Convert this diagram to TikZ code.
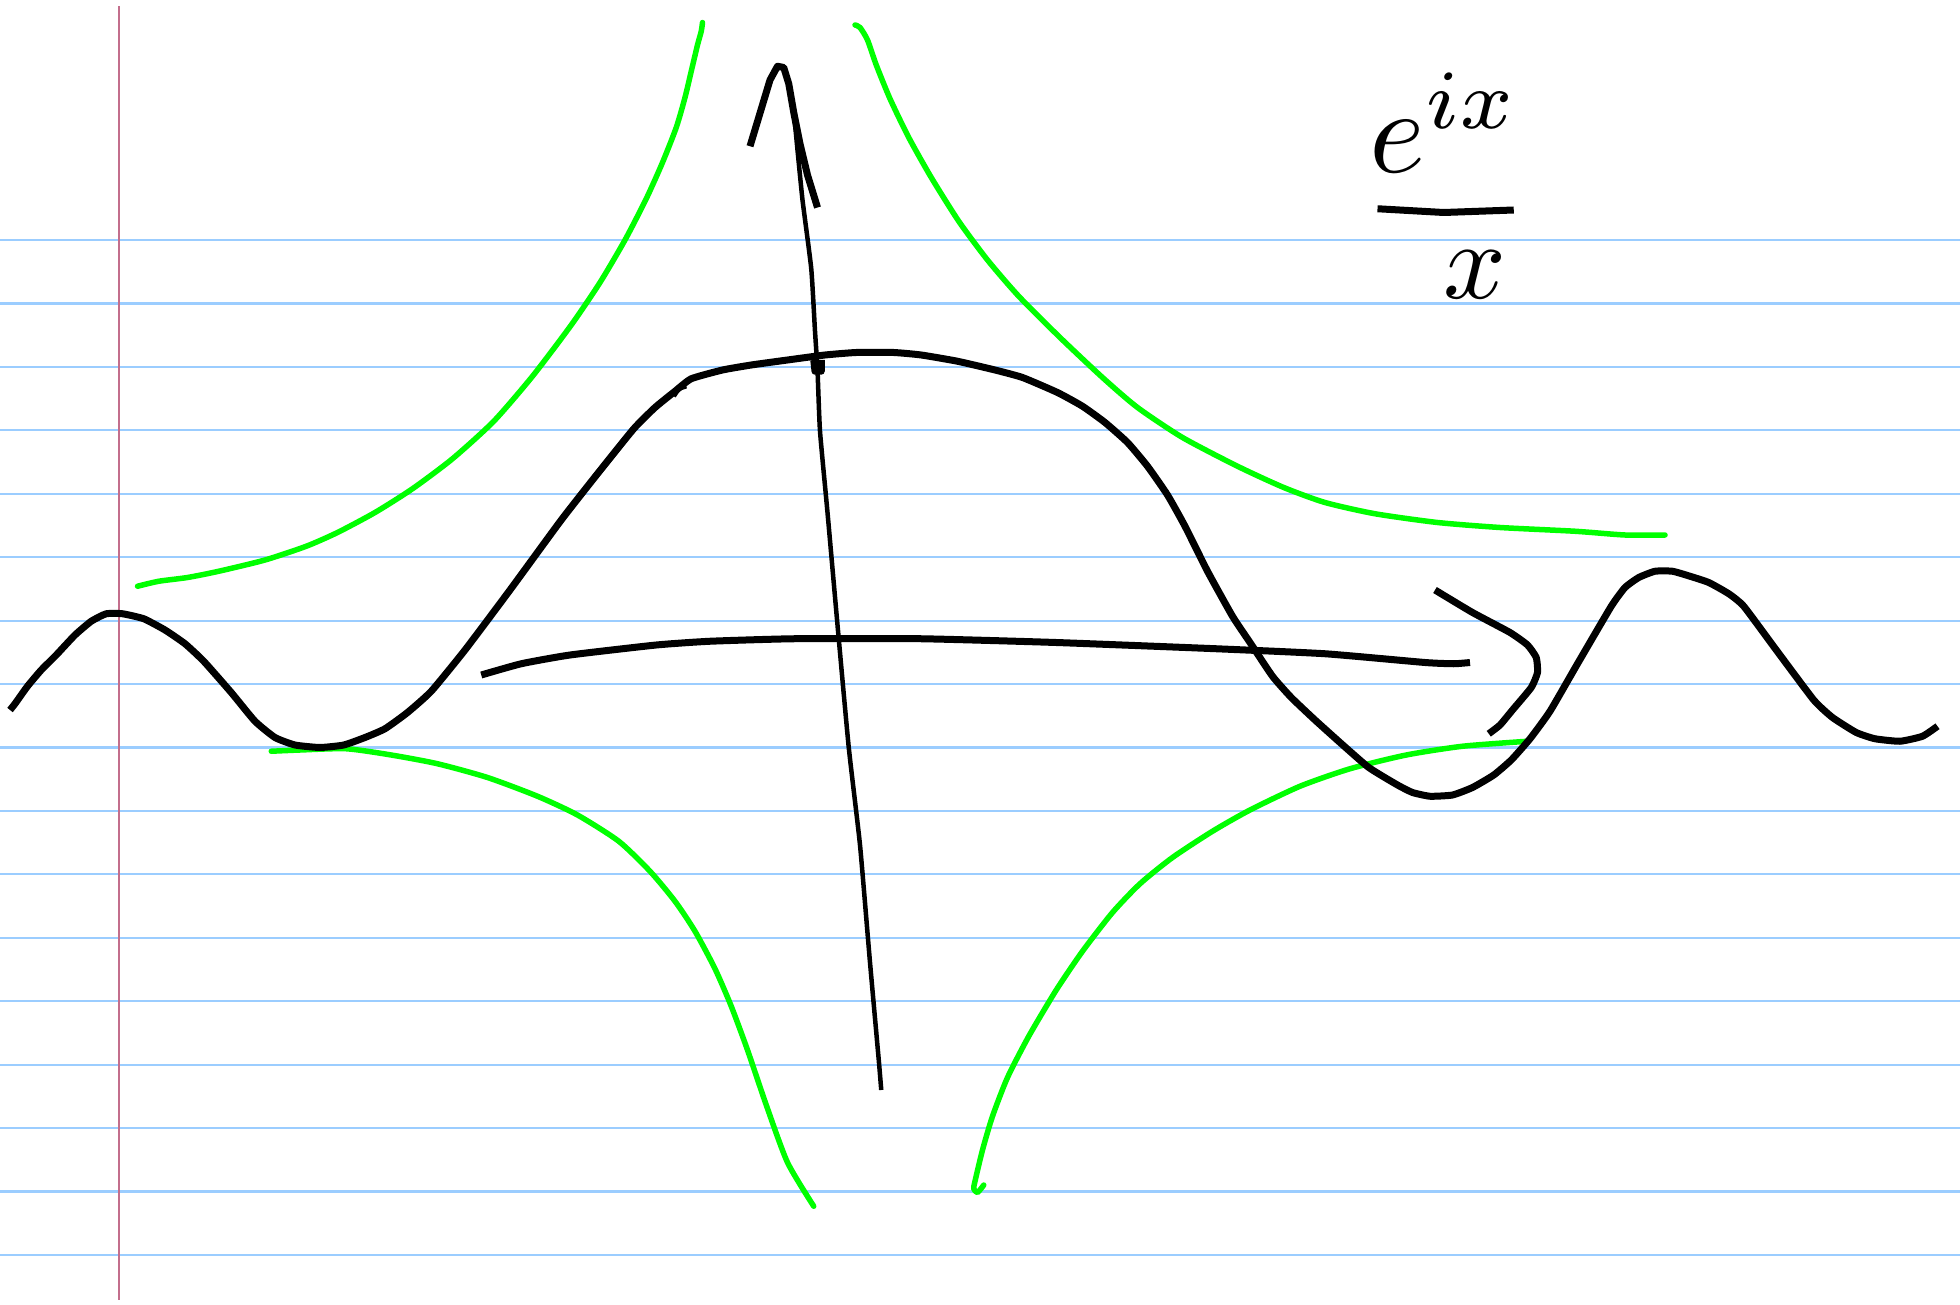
\documentclass[tikz,border=0pt]{standalone}
\usepackage{graphicx}
\begin{document}
\begin{tikzpicture}[x=1.25pt,y=-1.25pt,
  paperline/.style={draw={rgb,255:red,155;green,205;blue,255},line width=2.2pt},
  marginline/.style={draw={rgb,255:red,195;green,110;blue,140},line width=2.2pt},
  ink/.style={draw=black,line width=7pt,line join=round},
  thinink/.style={draw=black,line width=4.5pt,line join=round},
  greenink/.style={draw={rgb,255:red,0;green,255;blue,0},line width=5.5pt,line join=round,line cap=round},
  handtext/.style={inner sep=0pt,text=black}]
\useasboundingbox[fill=white] (0,0) rectangle (1568,1044);
% ruled paper
\foreach \i in {0,...,16} {
  \draw[paperline] (0,{192+50.75*\i}) -- (1568,{192+50.75*\i});
}
\draw[marginline] (95,5) -- (95,1040);

% green curves
\draw[greenink] plot[smooth,tension=0.4] coordinates {(110,469) (127,465) (150,462) (175,457) (212,448) (245,437) (270,426) (300,410) (330,391) (362,367) (395,337) (426,301) (457,260) (480,226) (500,192) (517,159) (530,130) (541,102) (548,78) (553,57) (558,36) (561,25) (562,18)};
\draw[greenink] plot[smooth,tension=0.4] coordinates {(684,20) (688,22) (694,32) (701,52) (712,79) (727,110) (745,142) (767,177) (790,208) (815,237) (848,270) (882,302) (910,326) (946,350) (990,373) (1027,390) (1060,402) (1100,411) (1150,418) (1200,422) (1260,425) (1300,428) (1332,428)};
\draw[greenink] plot[smooth,tension=0.4] coordinates {(217,601) (240,600) (277,599) (313,604) (350,611) (390,622) (430,637) (462,652) (495,673) (520,697) (540,721) (556,745) (572,775) (585,805) (598,840) (613,884) (630,930) (651,965)};
\draw[greenink] plot[smooth,tension=0.4] coordinates {(787,948) (782,954) (779,951) (780,945) (786,920) (794,893) (806,862) (823,829) (845,792) (866,761) (890,730) (912,707) (938,686) (970,665) (1000,648) (1040,629) (1080,615) (1125,604) (1170,597) (1222,593)};

% black wave
\draw[ink] plot[smooth,tension=0.3] coordinates {(8,568) (12,563) (22,549) (33,536) (45,524) (60,508) (73,497) (85,491) (98,491) (115,495) (132,504) (148,515) (163,529) (185,554) (204,577) (220,590) (236,596) (256,598) (275,596) (292,590) (308,583) (326,570) (345,553) (372,520) (408,472) (449,416) (478,379) (507,343) (524,326) (540,313) (553,303) (578,296) (601,292) (630,288) (660,284) (685,282) (715,282) (737,284) (766,289) (796,296) (818,302) (846,314) (866,325) (884,338) (902,354) (918,373) (934,396) (948,421) (966,457) (986,493) (1000,514) (1018,541) (1033,558) (1052,576) (1072,594) (1095,614) (1118,628) (1130,634) (1144,637) (1162,636) (1178,630) (1195,620) (1209,608) (1224,591) (1240,569) (1262,531) (1289,485) (1300,470) (1311,462) (1324,457) (1338,457) (1352,461) (1367,466) (1383,475) (1395,485) (1421,520) (1451,560) (1466,574) (1485,586) (1500,591) (1520,593) (1538,589) (1550,581)};
\draw[thinink] (539,317) -- (543,311) -- (549,309);

% x axis and its arrowhead
\draw[ink] plot[smooth,tension=0.3] coordinates {(385,540) (417,531) (456,524) (525,516) (568,513) (635,511) (737,511) (845,514) (973,519) (1060,523) (1140,530) (1163,531) (1176,530)};
\draw[ink] plot[smooth,tension=0.3] coordinates {(1148,472) (1178,490) (1208,506) (1222,516) (1229,526) (1230,538) (1225,550) (1210,568) (1200,580) (1191,587)};

% y axis and its arrowhead
\draw[thinink] plot[smooth,tension=0.3] coordinates {(627,54) (631,67) (635,90) (638,120) (642,160) (649,215) (652,265) (654,296) (656,345) (662,410) (670,500) (679,598) (688,676) (696,770) (703,848) (705,872)};
\draw[ink] (600,117) -- (616,64) -- (622,53) -- (627,54) -- (631,67) -- (635,90) -- (640,115) -- (646,140) -- (654,166);
\draw[ink] (651,288) -- (652,297) -- (657,297) -- (657,288);

% label e^{ix}/x
\node[handtext] (num) at (1156,98) {\scalebox{12}{$e^{ix}$}};
\coordinate (barl) at (1102,167);
\coordinate (barr) at (1211,168);
\draw[ink] (barl) -- (1155,170) -- (barr);
\node[handtext] (den) at (1180,220) {\scalebox{11}{$x$}};
\end{tikzpicture}
\end{document}
